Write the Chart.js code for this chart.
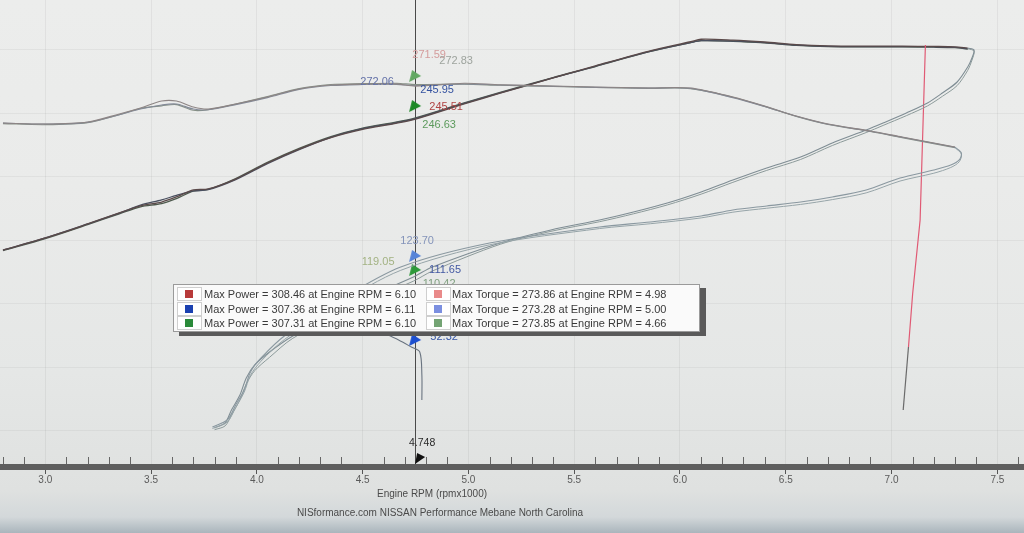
<!DOCTYPE html>
<html>
<head>
<meta charset="utf-8">
<script src="https://cdn.jsdelivr.net/npm/chart.js@4.4.1/dist/chart.umd.min.js"></script>
<style>
  html, body { margin: 0; padding: 0; }
  body {
    width: 1024px; height: 533px; overflow: hidden; position: relative;
    background: linear-gradient(to bottom, #ecedec 0%, #eaebea 35%, #e5e7e6 70%, #dfe1e0 92%, #d3d8da 97%, #aab5bc 100%);
    font-family: "Liberation Sans", Arial, sans-serif;
  }
  #chart { position: absolute; left: 0; top: 0; }
  #legend {
    position: absolute; left: 173px; top: 284px; width: 525px; height: 46px;
    background: #fafafa; border: 1px solid #9a9a9a; box-shadow: 6px 4px 0 #5a5a5a;
    font-size: 11px; color: #3a3a3a;
  }
  #legend .row { position: absolute; left: 0; width: 100%; height: 14px; }
  #legend .sw {
    position: absolute; top: 0; width: 23px; height: 12px;
    background: #fff; border: 1px solid #cfcfcf;
  }
  #legend .sw i { position: absolute; left: 7px; top: 2px; width: 8px; height: 8px; }
  #legend .txt { position: absolute; top: 0; line-height: 14px; white-space: nowrap; }
  .foot { position: absolute; font-size: 10px; color: #4a4a4a; white-space: nowrap; transform: translateX(-50%); }
</style>
</head>
<body>
<canvas id="chart" width="1024" height="533"></canvas>
<div id="legend"></div>
<div class="foot" style="left:432px; top:488px;">Engine RPM (rpmx1000)</div>
<div class="foot" style="left:440px; top:507px;">NISformance.com NISSAN Performance Mebane North Carolina</div>
<script>
// axis ranges (rpm x1000, hp / lb-ft)
const xMin = 2.786, xMax = 7.626;
const yMin = -28.35, yMax = 339.37;
const cursorRpm = 4.748;

// pull, three runs (red, blue, green)
const powerRpm = [2.80, 3.00, 3.20, 3.35, 3.45, 3.55, 3.62, 3.70, 3.77, 3.90, 4.05, 4.20, 4.35, 4.50, 4.65, 4.75, 4.98, 5.15, 5.40, 5.60, 5.85, 6.05, 6.10, 6.25, 6.40, 6.55, 6.70, 6.90, 7.05, 7.20, 7.30, 7.36];
const powerRed = [142.5, 152.0, 163.0, 171.7, 177.2, 180.3, 184.3, 189.8, 190.6, 198.4, 211.0, 222.0, 231.0, 237.5, 242.0, 245.51, 257.5, 266.0, 278.0, 287.5, 299.0, 306.5, 308.46, 307.8, 306.3, 304.2, 303.2, 303.0, 303.0, 302.8, 302.5, 301.5];
const powerBlue = [142.5, 152.0, 163.0, 171.5, 177.8, 182.0, 185.5, 189.0, 190.0, 198.0, 210.5, 221.5, 231.2, 238.0, 242.5, 245.95, 258.0, 266.3, 278.0, 287.2, 298.5, 305.8, 307.36, 307.0, 305.8, 303.8, 302.9, 302.7, 302.7, 302.4, 302.0, 301.0];
const powerGreen = [142.0, 151.5, 162.5, 171.0, 176.5, 179.0, 183.0, 188.8, 190.2, 198.8, 211.5, 222.5, 231.8, 238.5, 243.0, 246.63, 258.3, 266.6, 278.3, 287.0, 298.5, 305.8, 307.31, 306.9, 305.6, 303.6, 302.6, 302.4, 302.4, 302.2, 301.8, 300.8];

const torqueRpm = [2.80, 3.00, 3.20, 3.35, 3.45, 3.55, 3.62, 3.70, 3.77, 3.90, 4.05, 4.20, 4.35, 4.50, 4.66, 4.75, 4.98, 5.15, 5.40, 5.60, 5.85, 6.05, 6.25, 6.40, 6.55, 6.70, 6.90, 7.05, 7.20, 7.30];
const torqueRed = [242.5, 241.7, 243.3, 249.6, 254.3, 259.8, 259.8, 255.1, 253.5, 257.5, 263.0, 269.3, 272.4, 273.2, 273.3, 271.59, 273.86, 272.6, 271.7, 270.9, 270.1, 270.1, 263.0, 255.9, 248.0, 241.7, 236.2, 231.5, 226.8, 223.6];
const torqueBlue = [242.5, 241.7, 243.0, 249.0, 253.5, 256.7, 257.5, 253.5, 253.0, 257.0, 262.5, 269.0, 272.0, 272.8, 272.9, 272.06, 273.28, 272.4, 271.5, 270.6, 270.0, 269.8, 262.5, 255.5, 247.8, 241.5, 236.0, 231.3, 226.6, 223.4];
const torqueGreen = [242.0, 241.2, 242.8, 249.0, 254.0, 256.0, 257.0, 252.5, 253.0, 257.5, 263.3, 269.6, 272.8, 273.5, 273.85, 272.83, 273.0, 272.2, 271.3, 270.5, 269.8, 269.6, 262.8, 255.6, 247.6, 241.3, 235.8, 231.0, 226.3, 223.1];

// coast-down traces folding back to the left
const powerReturnRpm = [7.36, 7.39, 7.38, 7.36, 7.31, 7.24, 7.17, 7.07, 6.96, 6.88, 6.72, 6.57, 6.41, 6.25, 6.10, 5.94, 5.78, 5.62, 5.39, 5.15, 4.83, 4.74, 4.44, 4.17, 4.06, 3.99, 3.95, 3.92, 3.88, 3.85, 3.80];
const powerReturnA = [301.5, 300.0, 293.7, 286.6, 274.8, 266.1, 258.3, 250.4, 242.5, 237.0, 226.8, 215.7, 207.1, 197.6, 188.2, 179.5, 172.4, 166.1, 158.3, 148.0, 129.1, 121.3, 99.2, 74.8, 62.2, 52.0, 41.7, 28.3, 16.5, 6.3, 2.4];
const powerReturnB = [301.0, 299.2, 292.0, 284.0, 272.0, 263.5, 256.0, 248.3, 240.6, 235.0, 224.8, 213.8, 205.2, 195.8, 186.5, 178.0, 171.0, 164.8, 157.2, 147.0, 126.0, 118.0, 96.5, 73.0, 58.0, 47.5, 37.0, 24.5, 12.5, 4.0, 1.0];

const torqueReturnRpm = [7.30, 7.33, 7.32, 7.28, 7.20, 7.04, 6.88, 6.72, 6.57, 6.41, 6.25, 6.10, 5.86, 5.62, 5.10, 4.68, 4.39, 4.13, 4.02, 3.97, 3.94, 3.90, 3.86, 3.79];
const torqueReturnA = [223.6, 218.9, 213.4, 209.4, 205.5, 199.2, 189.8, 184.3, 180.3, 177.2, 174.0, 169.3, 164.6, 160.6, 148.0, 129.1, 103.1, 74.8, 57.5, 46.5, 32.3, 20.5, 8.7, 3.1];
const torqueReturnB = [223.1, 218.0, 212.0, 207.5, 203.0, 196.8, 187.5, 182.2, 178.4, 175.4, 172.3, 167.8, 163.2, 159.4, 146.6, 126.5, 100.5, 72.0, 55.0, 44.0, 30.5, 18.5, 7.0, 2.0];

const lowTraceRpm = [4.58, 4.67, 4.73, 4.77, 4.78, 4.78];
const lowTrace = [78.7, 71.7, 66.1, 62.2, 44.1, 24.4];

const redTraceRpm = [7.16, 7.145, 7.135, 7.10, 7.08, 7.055];
const redTrace = [303.9, 221.3, 166.1, 108.7, 66.1, 16.5];

// cursor read-outs
const cursorMarks = [279.5, 255.9, 137.8, 126.8, 71.7];
const cursorTorque = [271.59, 272.83, 272.06];
const cursorPower = [245.95, 245.51, 246.63];
const cursorLow = [123.70, 119.05, 111.65, 110.42, 52.32];

// legend summary
const runColors = ['#b83a3a', '#1a40b0', '#2a8a3a'];
const runColorsLight = ['#e98a8a', '#7b8fe0', '#74a474'];
const maxPower = [308.46, 307.36, 307.31];
const maxPowerRpm = [6.10, 6.11, 6.10];
const maxTorque = [273.86, 273.28, 273.85];
const maxTorqueRpm = [4.98, 5.00, 4.66];

const pts = (xs, ys) => xs.map((x, i) => ({ x: x, y: ys[i] }));
const line = (data, color, width) => ({
  data: data, borderColor: color, borderWidth: width, pointRadius: 0,
  tension: 0.3, fill: false
});
const isMajor = v => Math.round(v * 10) % 5 === 0;

// little pennant used as the cursor mark
function makeFlag(color) {
  const c = document.createElement('canvas');
  c.width = 16; c.height = 16;
  const g = c.getContext('2d');
  g.fillStyle = color;
  g.beginPath();
  g.moveTo(2, 14);
  g.lineTo(5, 2);
  g.lineTo(14, 8);
  g.closePath();
  g.fill();
  return c;
}

// legend box
const legend = document.getElementById('legend');
legend.innerHTML = maxPower.map((p, i) =>
  `<div class="row" style="top:${2 + i * 14.6}px">
     <span class="sw" style="left:3px"><i style="background:${runColors[i]}"></i></span>
     <span class="txt" style="left:30px">Max Power = ${p.toFixed(2)} at Engine RPM = ${maxPowerRpm[i].toFixed(2)}</span>
     <span class="sw" style="left:252px"><i style="background:${runColorsLight[i]}"></i></span>
     <span class="txt" style="left:278px">Max Torque = ${maxTorque[i].toFixed(2)} at Engine RPM = ${maxTorqueRpm[i].toFixed(2)}</span>
   </div>`).join('');

// label texts placed next to the cursor marks
const labelSpecs = [
  { text: cursorTorque[0].toFixed(2), mark: 0, dx: 14, dy: -21, color: '#d49c9c' },
  { text: cursorTorque[1].toFixed(2), mark: 0, dx: 41, dy: -15, color: '#9ea49e' },
  { text: cursorTorque[2].toFixed(2), mark: 0, dx: -38, dy: 6, color: '#6472a8' },
  { text: cursorPower[0].toFixed(2), mark: 1, dx: 22, dy: -16, color: '#3452a0' },
  { text: cursorPower[1].toFixed(2), mark: 1, dx: 31, dy: 1, color: '#b04444' },
  { text: cursorPower[2].toFixed(2), mark: 1, dx: 24, dy: 19, color: '#5c9a5c' },
  { text: cursorLow[0].toFixed(2), mark: 2, dx: 2, dy: -15, color: '#8494ba' },
  { text: cursorLow[1].toFixed(2), mark: 2, dx: -37, dy: 6, color: '#a2b282' },
  { text: cursorLow[2].toFixed(2), mark: 3, dx: 30, dy: 0, color: '#4258a2' },
  { text: cursorLow[3].toFixed(2), mark: 3, dx: 24, dy: 14, color: '#80a080' },
  { text: cursorLow[4].toFixed(2), mark: 4, dx: 29, dy: -3, color: '#3454a6' }
];

const cursorPlugin = {
  id: 'cursor',
  beforeDatasetsDraw(chart) {
    const { ctx, chartArea, scales: { x } } = chart;
    const cx = Math.round(x.getPixelForValue(cursorRpm)) + 0.5;
    ctx.save();
    ctx.strokeStyle = '#4a4a4a';
    ctx.lineWidth = 1;
    ctx.beginPath();
    ctx.moveTo(cx, chartArea.top);
    ctx.lineTo(cx, chartArea.bottom - 3);
    ctx.stroke();
    ctx.restore();
  },
  afterDatasetsDraw(chart) {
    const { ctx, chartArea, scales: { x, y } } = chart;
    const cx = x.getPixelForValue(cursorRpm);
    ctx.save();
    // minor ticks sitting on top of the axis bar
    ctx.strokeStyle = '#666';
    ctx.lineWidth = 1;
    x.ticks.forEach(t => {
      if (isMajor(t.value)) return;
      const px = Math.round(x.getPixelForValue(t.value)) + 0.5;
      ctx.beginPath();
      ctx.moveTo(px, chartArea.bottom - 3);
      ctx.lineTo(px, chartArea.bottom - 10);
      ctx.stroke();
    });
    // value labels at the cursor
    ctx.font = '11px "Liberation Sans", Arial, sans-serif';
    ctx.textAlign = 'center';
    ctx.textBaseline = 'middle';
    labelSpecs.forEach(l => {
      const py = y.getPixelForValue(cursorMarks[l.mark]);
      ctx.fillStyle = l.color;
      ctx.fillText(l.text, cx + l.dx, py + l.dy);
    });
    // cursor flag on the axis and its rpm
    const by = chartArea.bottom - 3;
    ctx.fillStyle = '#111';
    ctx.beginPath();
    ctx.moveTo(cx, by);
    ctx.lineTo(cx + 2, by - 11);
    ctx.lineTo(cx + 10, by - 7);
    ctx.closePath();
    ctx.fill();
    ctx.fillStyle = '#2a2a2a';
    ctx.font = '10.5px "Liberation Sans", Arial, sans-serif';
    ctx.fillText(cursorRpm.toFixed(3), cx + 7, by - 21);
    ctx.restore();
  }
};

new Chart(document.getElementById('chart'), {
  type: 'line',
  data: {
    datasets: [
      line(pts(torqueRpm, torqueRed), '#8d8585', 1.1),
      line(pts(torqueRpm, torqueBlue), '#838a98', 1.1),
      line(pts(torqueRpm, torqueGreen), '#869086', 1.1),
      line(pts(torqueReturnRpm, torqueReturnA), '#8a98a0', 1.1),
      line(pts(torqueReturnRpm, torqueReturnB), '#96a4a8', 1.0),
      line(pts(powerReturnRpm, powerReturnA), '#7f8d94', 1.1),
      line(pts(powerReturnRpm, powerReturnB), '#8c9a9a', 1.0),
      line(pts(lowTraceRpm, lowTrace), '#6a7480', 1.1),
      Object.assign(line(pts(redTraceRpm, redTrace), '#e05a74', 1.2), {
        tension: 0,
        segment: { borderColor: c => c.p0.parsed.y < 70 ? '#6a6a6a' : '#e05a74' }
      }),
      line(pts(powerRpm, powerRed), '#5b4a4a', 1.3),
      line(pts(powerRpm, powerBlue), '#4a5060', 1.3),
      line(pts(powerRpm, powerGreen), '#4d5a4d', 1.3),
      {
        data: cursorMarks.map(v => ({ x: cursorRpm, y: v })),
        showLine: false,
        pointRadius: 7,
        pointStyle: ['#62a862', '#1d8a26', '#5684d8', '#2e9a3a', '#1c4fd0'].map(makeFlag)
      }
    ]
  },
  options: {
    responsive: false,
    devicePixelRatio: 1,
    animation: false,
    events: [],
    layout: { padding: 0, autoPadding: false },
    font: { family: '"Liberation Sans", Arial, sans-serif' },
    plugins: { legend: { display: false }, tooltip: { enabled: false } },
    scales: {
      x: {
        type: 'linear', min: xMin, max: xMax,
        afterFit(s) { s.height = 66; s.paddingLeft = 0; s.paddingRight = 0; },
        border: { color: '#5e5e5e', width: 6 },
        grid: {
          color: c => (c.tick && isMajor(c.tick.value)) ? 'rgba(0,0,0,0.05)' : 'rgba(0,0,0,0)',
          tickColor: c => (c.tick && isMajor(c.tick.value)) ? '#555' : 'rgba(0,0,0,0)',
          tickLength: 7
        },
        ticks: {
          stepSize: 0.1, autoSkip: false, maxRotation: 0, includeBounds: false,
          padding: 0, color: '#5a5a5a',
          font: { size: 10, family: '"Liberation Sans", Arial, sans-serif' },
          callback: v => isMajor(v) ? (Math.round(v * 10) / 10).toFixed(1) : ''
        }
      },
      y: {
        type: 'linear', min: yMin, max: yMax,
        afterFit(s) { s.width = 0; },
        border: { display: false },
        grid: { color: 'rgba(0,0,0,0.045)', drawTicks: false },
        ticks: { display: false, stepSize: 50, includeBounds: false }
      }
    }
  },
  plugins: [cursorPlugin]
});
</script>
</body>
</html>
